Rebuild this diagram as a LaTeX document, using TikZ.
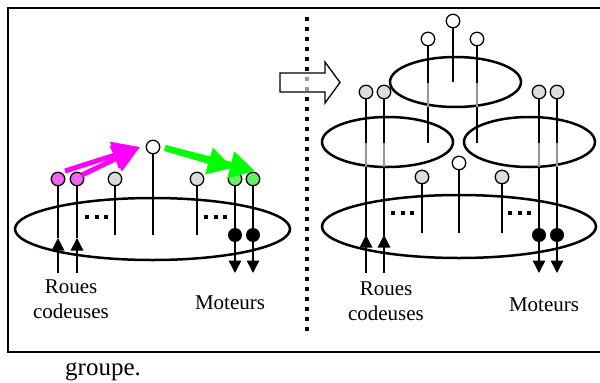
\documentclass[tikz,border=0pt]{standalone}
\usepackage{fontspec}
\setmainfont{Liberation Serif}
\usetikzlibrary{arrows.meta}
\definecolor{pinkfill}{RGB}{238,102,238}
\definecolor{greyfill}{RGB}{221,221,221}
\definecolor{greenfill}{RGB}{102,238,102}
\definecolor{magarrow}{RGB}{255,0,255}
\definecolor{grnarrow}{RGB}{0,255,0}
\definecolor{midgrey}{RGB}{150,150,150}
\tikzset{
  knob/.style={circle, draw, line width=1.3pt, minimum size=13.5pt, inner sep=0pt},
  knobpink/.style={knob, fill=pinkfill},
  knobgrey/.style={knob, fill=greyfill},
  knobgreen/.style={knob, fill=greenfill},
  knobwhite/.style={knob, fill=white},
  stem/.style={line width=1.5pt},
  greystem/.style={line width=1.5pt, draw=midgrey},
  blob/.style={circle, fill=black, minimum size=14pt, inner sep=0pt},
  inarrow/.style={line width=1.5pt, -{Triangle[length=12.5pt,width=12.5pt]}},
  oval/.style={line width=2.5pt},
  threedots/.style={line width=4pt, dash pattern=on 4pt off 5.5pt},
  bigmag/.style={line width=5pt, draw=magarrow, -{Triangle[length=27pt,width=27pt]}},
  biggrn/.style={line width=6pt, draw=grnarrow, -{Triangle[length=25pt,width=26pt]}},
  lbl/.style={font=\fontsize{21}{25}\selectfont, align=center},
}
\begin{document}
\begin{tikzpicture}[x=1pt, y=-1pt]
\useasboundingbox (0,0) rectangle (600,383);
% frame
\draw[line width=2pt] (601,8) -- (8,8) -- (8,352) -- (601,352);
% ---------------- left half ----------------
\draw[oval] (152.5,229) ellipse [x radius=137.5, y radius=31];
\node[knobpink] (p1) at (58,179) {};
\node[knobpink] (p2) at (77,179) {};
\node[knobgrey] (g1) at (115,179) {};
\node[knobwhite] (w1) at (153,147) {};
\node[knobgrey] (g2) at (197,179) {};
\node[knobgreen] (q1) at (235,179) {};
\node[knobgreen] (q2) at (253,179) {};
\coordinate (p1b) at (58,273); \coordinate (p1t) at (58,238);
\coordinate (p2b) at (77,273); \coordinate (p2t) at (77,238);
\coordinate (g1e) at (115,235);
\coordinate (w1e) at (153,235);
\coordinate (g2e) at (197,235);
\coordinate (q1e) at (235,273);
\coordinate (q2e) at (253,273);
\draw[stem] (p1) -- (p1t);
\draw[stem] (p2) -- (p2t);
\draw[inarrow] (p1b) -- (p1t);
\draw[inarrow] (p2b) -- (p2t);
\draw[stem] (g1) -- (g1e);
\draw[stem] (w1) -- (w1e);
\draw[stem] (g2) -- (g2e);
\draw[inarrow] (q1) -- (q1e);
\draw[inarrow] (q2) -- (q2e);
\node[blob] (d1) at (235,235) {};
\node[blob] (d2) at (253,235) {};
\draw[threedots] (85,217) -- (109,217);
\draw[threedots] (204,217) -- (228,217);
% coloured arrows
\coordinate (ms1) at (65,171);
\coordinate (ms2) at (82,175);
\coordinate (mt) at (140,147);
\draw[bigmag] (ms1) -- (mt);
\draw[bigmag] (ms2) -- (mt);
\coordinate (gs) at (165,148);
\coordinate (gt1) at (233,168);
\coordinate (gt2) at (255,171);
\draw[biggrn] (gs) -- (gt1);
\draw[biggrn] (gs) -- (gt2);
\node[lbl] (rc1) at (71,299) {Roues\\codeuses};
\node[lbl] (mo1) at (230,303) {Moteurs};
% ---------------- separator & block arrow ----------------
\draw[line width=4pt, dash pattern=on 4pt off 6pt] (307,17) -- (307,332);
\draw[line width=1.3pt, fill=white, fill opacity=0.6]
  (280,73) -- (325,73) -- (325,62) -- (340,82.5) -- (325,103) -- (325,92) -- (280,92) -- cycle;
% ---------------- right half ----------------
\draw[oval] (455.5,82) ellipse [x radius=65.5, y radius=25];
\draw[oval] (387.5,142) ellipse [x radius=65.5, y radius=25];
\draw[oval] (529.5,142) ellipse [x radius=65.5, y radius=25];
\draw[oval] (459,226.5) ellipse [x radius=137, y radius=31.5];
% top group
\node[knobwhite] (t0) at (453,21) {};
\node[knobwhite] (t1) at (428,39) {};
\node[knobwhite] (t2) at (477,39) {};
\coordinate (t0e) at (453,82);
\draw[stem] (t0) -- (t0e);
\draw[stem] (t1) -- (428,83);
\draw[greystem] (428,83) -- (428,107);
\draw[stem] (428,107) -- (428,143);
\draw[stem] (t2) -- (477,83);
\draw[greystem] (477,83) -- (477,107);
\draw[stem] (477,107) -- (477,143);
% middle groups
\node[knobgrey] (m1) at (366,92) {};
\node[knobgrey] (m2) at (384,92) {};
\node[knobgrey] (m3) at (539,92) {};
\node[knobgrey] (m4) at (557,92) {};
\draw[stem] (m1) -- (366,143);
\draw[greystem] (366,143) -- (366,167);
\draw[stem] (366,167) -- (366,236);
\draw[stem] (m2) -- (384,143);
\draw[greystem] (384,143) -- (384,167);
\draw[stem] (384,167) -- (384,236);
\draw[stem] (m3) -- (539,143);
\draw[greystem] (539,143) -- (539,167);
\draw[inarrow] (539,167) -- (539,273);
\draw[stem] (m4) -- (557,143);
\draw[greystem] (557,143) -- (557,167);
\draw[inarrow] (557,167) -- (557,273);
\coordinate (r1b) at (366,273); \coordinate (r1t) at (366,235);
\coordinate (r2b) at (384,273); \coordinate (r2t) at (384,235);
\draw[inarrow] (r1b) -- (r1t);
\draw[inarrow] (r2b) -- (r2t);
\node[blob] (d3) at (539,235) {};
\node[blob] (d4) at (557,235) {};
% bottom group
\node[knobgrey] (b1) at (422,177) {};
\node[knobwhite] (b0) at (459,163) {};
\node[knobgrey] (b2) at (502,177) {};
\draw[stem] (b1) -- (422,233);
\draw[stem] (b0) -- (459,233);
\draw[stem] (b2) -- (502,233);
\draw[threedots] (391,213) -- (415,213);
\draw[threedots] (508,213) -- (532,213);
\node[lbl] (rc2) at (386,301) {Roues\\codeuses};
\node[lbl] (mo2) at (544,305) {Moteurs};
% caption fragment
\node[font=\fontsize{25}{30}\selectfont, anchor=base west, inner sep=0pt] (cap) at (65,375) {groupe.};
\end{tikzpicture}
\end{document}
